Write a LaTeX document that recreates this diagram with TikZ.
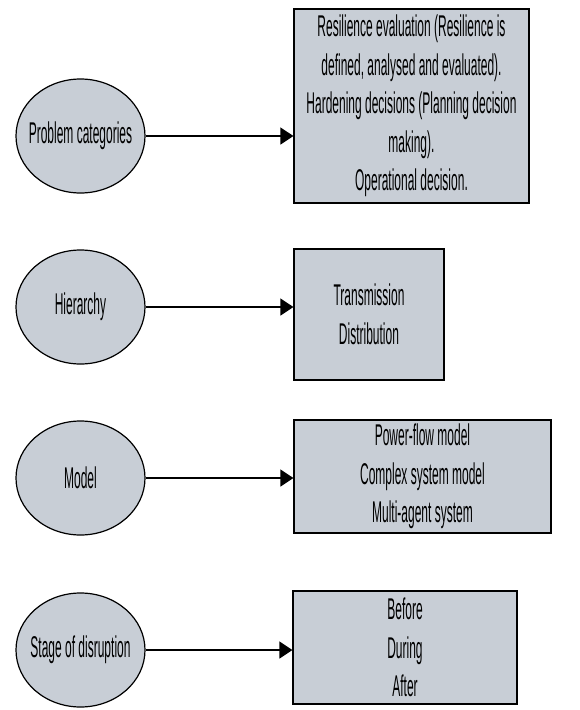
\documentclass[tikz,border=0pt]{standalone}
\usepackage{fontspec}
\newfontfamily\narrowsans{Liberation Sans}[FakeStretch=0.40]
\usetikzlibrary{shapes}
\usetikzlibrary{arrows.meta}
\usetikzlibrary{positioning}
\definecolor{boxfill}{RGB}{200,206,214}

\begin{document}
\begin{tikzpicture}[
    x=1pt, y=-1pt,
    font=\narrowsans\fontsize{30}{38.5}\selectfont
]
\tikzset{
    catnode/.style = {ellipse, draw=black, fill=boxfill, line width=1.2pt, minimum width=129pt, minimum height=114pt, inner sep=0pt},
    listbox/.style = {rectangle, draw=black, fill=boxfill, line width=1.2pt, align=center, inner sep=0pt},
    link/.style = {-{Triangle[length=13pt,width=17pt]}, line width=1.2pt}
}
\useasboundingbox (0,0) rectangle (579,710);
% left column
\node[catnode, label={center:Problem categories}] at (80.5,136) (cat) {};
\node[catnode, label={center:Hierarchy}] at (80.5,307) (hier) {};
\node[catnode, label={center:Model}] at (80.5,478) (model) {};
\node[catnode, label={center:Stage of disruption}] at (80.5,650) (stage) {};
% right column
\node[listbox, minimum width=235pt, minimum height=194pt] at (411.5,106) (catbox)
    {Resilience evaluation (Resilience is\\defined, analysed and evaluated).\\Hardening decisions (Planning decision\\making).\\Operational decision.};
\node[listbox, minimum width=150pt, minimum height=131pt] at (369,314.5) (hierbox)
    {Transmission\\Distribution};
\node[listbox, minimum width=257pt, minimum height=113pt] at (422.5,476.5) (modelbox)
    {Power-flow model\\Complex system model\\Multi-agent system};
\node[listbox, minimum width=224pt, minimum height=113pt] at (405,647.5) (stagebox)
    {Before\\During\\After};
% arrows
\draw[link] (cat.east) -- (cat.east -| catbox.west);
\draw[link] (hier.east) -- (hier.east -| hierbox.west);
\draw[link] (model.east) -- (model.east -| modelbox.west);
\draw[link] (stage.east) -- (stage.east -| stagebox.west);
\end{tikzpicture}
\end{document}
